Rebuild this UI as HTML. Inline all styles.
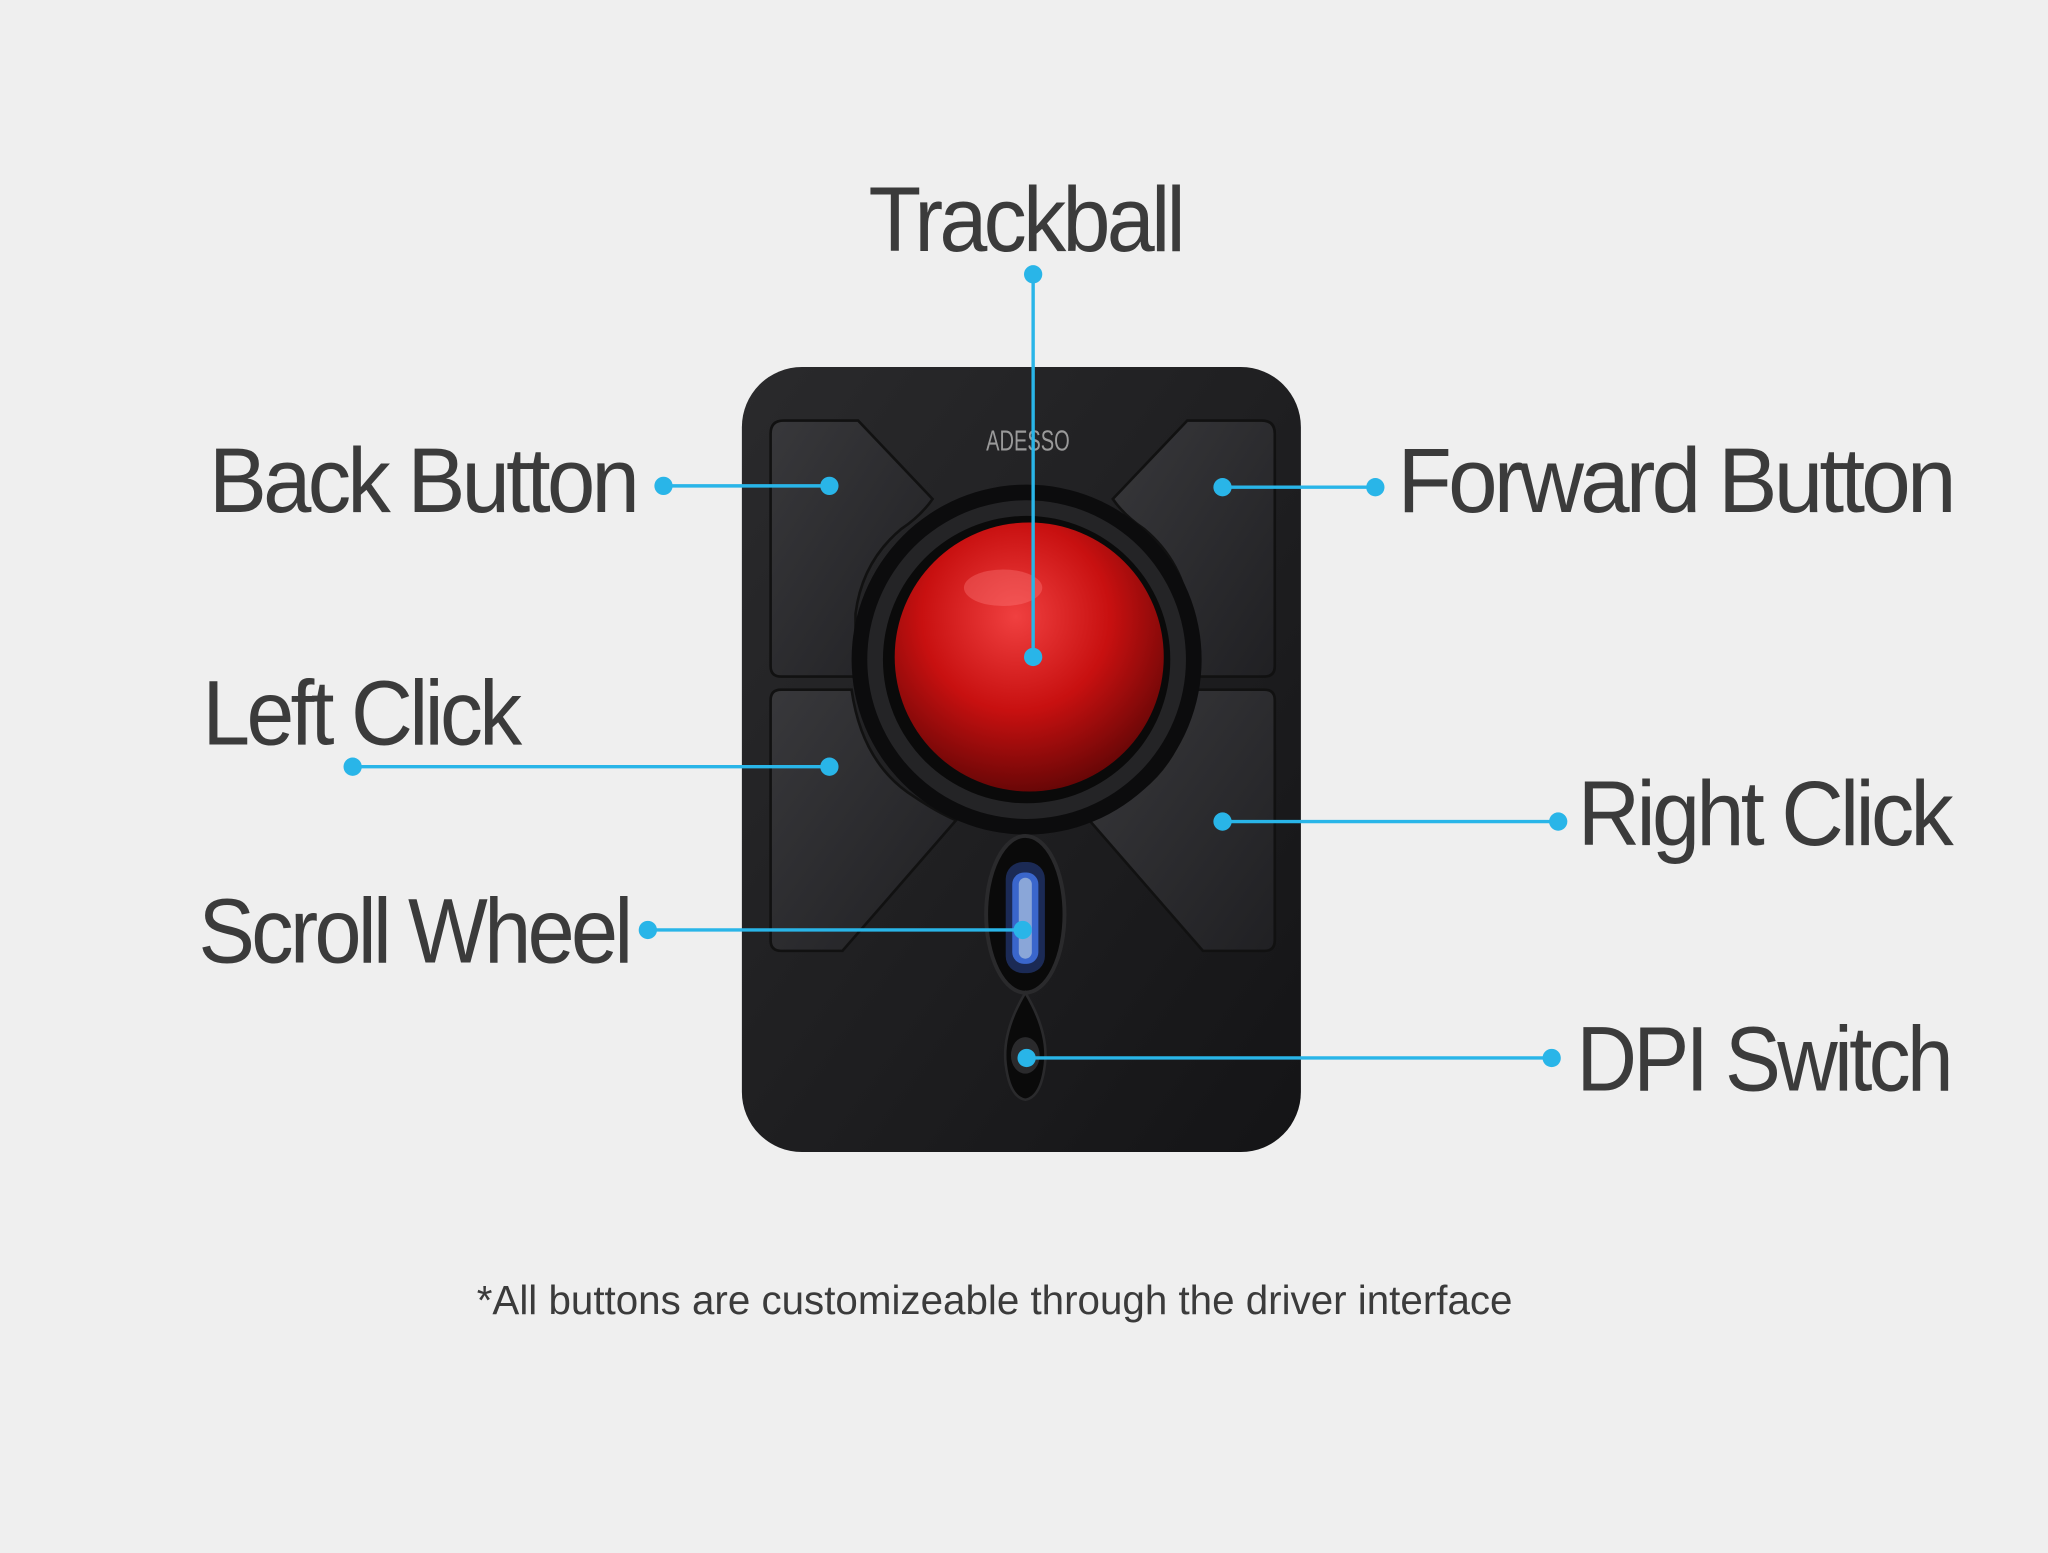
<!DOCTYPE html>
<html><head><meta charset="utf-8"><style>
html,body{margin:0;padding:0;background:#efefef;}
svg{display:block;}
text{font-family:"Liberation Sans",sans-serif;fill:#3b3b3b;}
</style></head><body>
<svg width="2048" height="1553" viewBox="0 0 1568 1189" preserveAspectRatio="none" xmlns="http://www.w3.org/2000/svg">
<defs>
<radialGradient id="ball" cx="0.45" cy="0.35" r="0.7">
<stop offset="0" stop-color="#f04040"/><stop offset="0.5" stop-color="#c81010"/><stop offset="1" stop-color="#5a0505"/>
</radialGradient>
<linearGradient id="body" x1="0" y1="0" x2="1" y2="1">
<stop offset="0" stop-color="#2a2a2c"/><stop offset="1" stop-color="#141416"/>
</linearGradient>
<linearGradient id="btn" x1="0" y1="0" x2="1" y2="1">
<stop offset="0" stop-color="#38383b"/><stop offset="1" stop-color="#202023"/>
</linearGradient>
</defs>
<rect width="1568" height="1189" fill="#efefef"/>
<!-- body -->
<rect x="568" y="281" width="428" height="601" rx="46" fill="url(#body)"/>
<!-- buttons -->
<path d="M590 332 Q590 322 600 322 L657 322 L714 382 Q705 395 690 405 Q660 430 655 470 L655 518 L598 518 Q590 518 590 510 Z" fill="url(#btn)" stroke="#111" stroke-width="2"/>
<path d="M976 332 Q976 322 966 322 L909 322 L852 382 Q861 395 876 405 Q906 430 911 470 L911 518 L968 518 Q976 518 976 510 Z" fill="url(#btn)" stroke="#111" stroke-width="2"/>
<path d="M590 536 Q590 528 598 528 L652 528 Q660 585 700 610 Q718 622 732 628 L645 728 L598 728 Q590 728 590 720 Z" fill="url(#btn)" stroke="#111" stroke-width="2"/>
<path d="M976 536 Q976 528 968 528 L914 528 Q906 585 866 610 Q848 622 834 628 L921 728 L968 728 Q976 728 976 720 Z" fill="url(#btn)" stroke="#111" stroke-width="2"/>
<!-- trackball -->
<circle cx="786" cy="505" r="134" fill="#0c0c0d"/>
<circle cx="786" cy="505" r="122" fill="#242426"/>
<circle cx="786" cy="505" r="110" fill="#0a0a0a"/>
<circle cx="788" cy="503" r="103" fill="url(#ball)"/>
<ellipse cx="768" cy="450" rx="30" ry="14" fill="#ff8080" opacity="0.35"/>
<!-- logo -->
<text x="787" y="345" font-size="22" text-anchor="middle" style="fill:#9a9a9a" textLength="64" lengthAdjust="spacingAndGlyphs">ADESSO</text>
<!-- scroll wheel -->
<ellipse cx="785" cy="700" rx="30" ry="60" fill="#0a0a0a" stroke="#2a2a2c" stroke-width="3"/>
<rect x="770" y="660" width="30" height="85" rx="13" fill="#1b2a55"/>
<rect x="775" y="668" width="20" height="70" rx="9" fill="#3a66cc"/>
<rect x="780" y="672" width="10" height="62" rx="5" fill="#8aa6d8"/>
<!-- dpi -->
<path d="M785 760 Q803 790 800 815 Q797 840 785 842 Q773 840 770 815 Q767 790 785 760 Z" fill="#0a0a0a" stroke="#2a2a2c" stroke-width="2"/>
<ellipse cx="785" cy="808" rx="11" ry="14" fill="#2a2a2c"/>
<!-- connectors -->
<g stroke="#29b5e8" stroke-width="2.6" fill="none">
<line x1="791" y1="210" x2="791" y2="503"/>
<line x1="508" y1="372" x2="635" y2="372"/>
<line x1="936" y1="373" x2="1053" y2="373"/>
<line x1="270" y1="587" x2="635" y2="587"/>
<line x1="936" y1="629" x2="1193" y2="629"/>
<line x1="496" y1="712" x2="783" y2="712"/>
<line x1="786" y1="810" x2="1188" y2="810"/>
</g>
<g fill="#29b5e8">
<circle cx="791" cy="210" r="7"/><circle cx="791" cy="503" r="7"/>
<circle cx="508" cy="372" r="7"/><circle cx="635" cy="372" r="7"/>
<circle cx="936" cy="373" r="7"/><circle cx="1053" cy="373" r="7"/>
<circle cx="270" cy="587" r="7"/><circle cx="635" cy="587" r="7"/>
<circle cx="936" cy="629" r="7"/><circle cx="1193" cy="629" r="7"/>
<circle cx="496" cy="712" r="7"/><circle cx="783" cy="712" r="7"/>
<circle cx="786" cy="810" r="7"/><circle cx="1188" cy="810" r="7"/>
</g>
<!-- labels -->
<g font-size="70" letter-spacing="-3">
<text x="665" y="192" textLength="240" lengthAdjust="spacingAndGlyphs">Trackball</text>
<text x="160" y="392" textLength="327" lengthAdjust="spacingAndGlyphs">Back Button</text>
<text x="1070" y="392" textLength="425" lengthAdjust="spacingAndGlyphs">Forward Button</text>
<text x="155" y="570" textLength="242" lengthAdjust="spacingAndGlyphs">Left Click</text>
<text x="1208" y="647" textLength="285" lengthAdjust="spacingAndGlyphs">Right Click</text>
<text x="152" y="737" textLength="330" lengthAdjust="spacingAndGlyphs">Scroll Wheel</text>
<text x="1207" y="835" textLength="286" lengthAdjust="spacingAndGlyphs">DPI Switch</text>
</g>
<text x="365" y="1006" font-size="31" textLength="793" lengthAdjust="spacingAndGlyphs">*All buttons are customizeable through the driver interface</text>
</svg>
</body></html>
